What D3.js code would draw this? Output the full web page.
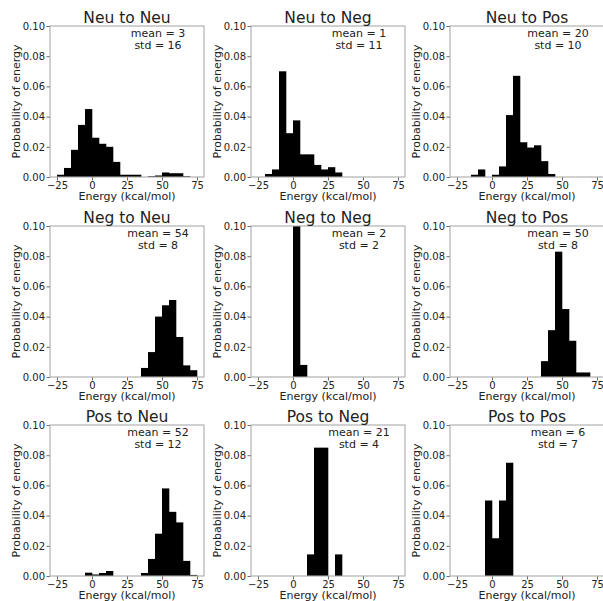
<!DOCTYPE html>
<html>
<head>
<meta charset="utf-8">
<script src="https://cdn.jsdelivr.net/npm/d3@7"></script>
<style>
  body { margin: 0; background: #fff; }
  svg { display: block; }
  text { font-family: "DejaVu Sans", sans-serif; fill: #222; }
</style>
</head>
<body>
<svg id="chart" width="603" height="601"></svg>
<script>
// ---- data ----
const titles = ["Neu to Neu", "Neu to Neg", "Neu to Pos",
                "Neg to Neu", "Neg to Neg", "Neg to Pos",
                "Pos to Neu", "Pos to Neg", "Pos to Pos"];
const means = [3, 1, 20, 54, 2, 50, 52, 21, 6];
const stds  = [16, 11, 10, 8, 2, 8, 12, 4, 7];
const binWidth = 5;
// lower edge of the first bin for each panel
const binStarts = [-25, -20, -15, 35, 0, 35, -5, 10, -5];
const neuToNeu = [0.0015, 0.006, 0.018, 0.0345, 0.045, 0.026, 0.022, 0.020, 0.010, 0.0015,
                  0.0015, 0.0015, 0, 0.0005, 0.001, 0.003, 0.0025, 0.0025, 0.0005];
const neuToNeg = [0.002, 0.005, 0.070, 0.029, 0.0375, 0.015, 0.015, 0.008, 0.005, 0.0065, 0.003];
const neuToPos = [0.0015, 0.005, 0, 0.0015, 0.007, 0.041, 0.067, 0.023, 0.0195, 0.021, 0.0105, 0.002];
const negToNeu = [0.006, 0.0165, 0.040, 0.0475, 0.051, 0.0265, 0.0077, 0.0045];
const negToNeg = [0.19, 0.008];
const negToPos = [0.0105, 0.031, 0.083, 0.045, 0.024, 0.003, 0.003];
const posToNeu = [0.0022, 0.001, 0.002, 0.0033, 0, 0, 0, 0, 0.002, 0.0113, 0.028, 0.058, 0.0425, 0.0355, 0.010, 0.0007];
const posToNeg = [0.0143, 0.085, 0.085, 0, 0.0143];
const posToPos = [0.050, 0.025, 0.050, 0.075];
const series = [neuToNeu, neuToNeg, neuToPos, negToNeu, negToNeg, negToPos, posToNeu, posToNeg, posToPos];
const xTicks = [-25, 0, 25, 50, 75];
const yTicks = [0, 0.02, 0.04, 0.06, 0.08, 0.10];

// ---- layout ----
const colLeft = [50, 251, 450];
const rowTop = [26, 226, 425];
const W = 154, H = 151;

const svg = d3.select("#chart");
const x = d3.scaleLinear().domain([-30, 80]).range([0, W]);
const y = d3.scaleLinear().domain([0, 0.1]).range([H, 0]);

series.forEach((vals, i) => {
  const col = i % 3, row = Math.floor(i / 3);
  const g = svg.append("g").attr("transform", `translate(${colLeft[col]},${rowTop[row]})`);

  const clipId = "clip" + i;
  g.append("clipPath").attr("id", clipId)
    .append("rect").attr("x", 0).attr("y", 0).attr("width", W).attr("height", H);

  const bins = vals.map((v, k) => ({ x0: binStarts[i] + k * binWidth, x1: binStarts[i] + (k + 1) * binWidth, v }));
  g.append("g").attr("clip-path", `url(#${clipId})`)
    .selectAll("rect").data(bins.filter(b => b.v > 0)).join("rect")
    .attr("x", d => x(d.x0))
    .attr("width", d => x(d.x1) - x(d.x0) + 0.3)
    .attr("y", d => y(d.v))
    .attr("height", d => y(0) - y(d.v))
    .attr("fill", "#000");

  // axes
  const xa = g.append("g").attr("transform", `translate(0,${H})`)
    .call(d3.axisBottom(x).tickValues(xTicks).tickSize(3.5).tickPadding(1.5)
      .tickFormat(d => d < 0 ? "\u2212" + Math.abs(d) : d));
  const ya = g.append("g")
    .call(d3.axisLeft(y).tickValues(yTicks).tickSize(3.5).tickPadding(1.5)
      .tickFormat(d3.format(".2f")));
  [xa, ya].forEach(a => {
    a.select(".domain").remove();
    a.selectAll(".tick line").attr("stroke", "#444").attr("stroke-width", 0.8);
    a.selectAll(".tick text").style("font-size", "10px").attr("fill", "#222");
  });

  // spines
  g.append("rect").attr("x", 0).attr("y", 0).attr("width", W).attr("height", H)
    .attr("fill", "none").attr("stroke", "#aaa").attr("stroke-width", 1.1);

  // title
  g.append("text").attr("x", W / 2).attr("y", -3.5).attr("text-anchor", "middle")
    .style("font-size", "15.5px").text(titles[i]);

  // annotation
  g.append("text").attr("x", 108).attr("y", 11).attr("text-anchor", "middle")
    .style("font-size", "11px").text(`mean = ${means[i]}`);
  g.append("text").attr("x", 108).attr("y", 23).attr("text-anchor", "middle")
    .style("font-size", "11px").text(`std = ${stds[i]}`);

  // axis labels
  g.append("text").attr("x", W / 2).attr("y", H + 23).attr("text-anchor", "middle")
    .style("font-size", "11px").text("Energy (kcal/mol)");
  g.append("text").attr("transform", `translate(${-34},${H / 2}) rotate(-90)`)
    .attr("dy", "0.32em")
    .attr("text-anchor", "middle").style("font-size", "11px").text("Probability of energy");
});
</script>
</body>
</html>
